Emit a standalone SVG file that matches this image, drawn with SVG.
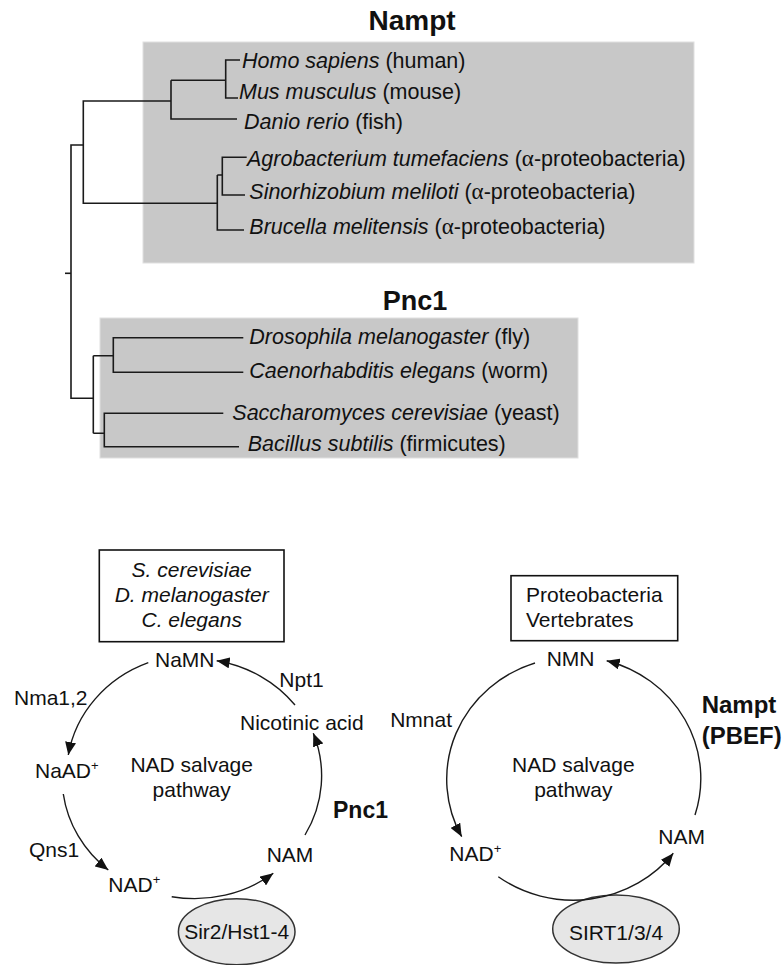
<svg xmlns="http://www.w3.org/2000/svg" width="783" height="965" viewBox="0 0 783 965">
<style>
  text { font-family: "Liberation Sans", Arial, sans-serif; font-size: 21px; fill: #111; }
  .sp { font-size: 21.5px; }
  .it { font-style: italic; }
  .b { font-weight: bold; }
  .title { font-weight: bold; font-size: 28px; text-anchor: middle; }
  .greek { font-family: "Liberation Serif", "Times New Roman", serif; font-size: 23px; }
  .mid { text-anchor: middle; }
  .sup { font-size: 13px; }
  .tree { stroke: #1a1a1a; stroke-width: 1.6; fill: none; }
  .arc { stroke: #1a1a1a; stroke-width: 1.4; fill: none; marker-end: url(#ah); }
  .panel { fill: #c8c8c8; stroke: #e0e0e0; stroke-width: 1; }
  .box { fill: #fff; stroke: #111; stroke-width: 1.6; }
  .enz { fill: #e6e6e6; stroke: #333; stroke-width: 1.5; }
</style>
<defs>
  <marker id="ah" markerUnits="userSpaceOnUse" markerWidth="14" markerHeight="11" refX="13" refY="5.5" orient="auto">
    <path d="M0,0 L13,5.5 L0,11 z" fill="#111"/>
  </marker>
</defs>
<rect width="783" height="965" fill="#fff"/>

<!-- Top: phylogenetic tree -->
<g id="nampt-panel">
  <rect class="panel" x="143" y="42" width="551" height="221"/>
  <text class="title" x="412" y="30">Nampt</text>
</g>
<g id="pnc1-panel">
  <rect class="panel" x="100" y="318" width="478" height="140"/>
  <text class="title" x="415" y="310" style="font-size:27px">Pnc1</text>
</g>

<g id="tree-connectors">
  <path class="tree" d="M240,60 H225.7 V98 H238"/>
  <path class="tree" d="M225.7,80.3 H171 M171,80.3 V119 H237"/>
  <path class="tree" d="M246.7,157.3 H222.3 V195 H245"/>
  <path class="tree" d="M222.3,175 H217.3 M217.3,175 V230 H244"/>
  <path class="tree" d="M171,101 H83.3 V203.3 H217.3"/>
  <path class="tree" d="M83.3,145 H71 V398.3 H93.3"/>
  <path class="tree" d="M65,273.3 H71"/>
  <path class="tree" d="M93.3,355.7 V433.3"/>
  <path class="tree" d="M93.3,355.7 H113.3 M243.3,337.7 H113.3 V372.3 H243.3"/>
  <path class="tree" d="M93.3,433.3 H104.3 M223.3,413.3 H104.3 V446.7 H239"/>
</g>

<g id="homo"><text class="sp" x="242" y="67.5"><tspan class="it">Homo sapiens</tspan> (human)</text></g>
<g id="mus"><text class="sp" x="239" y="99"><tspan class="it">Mus musculus</tspan> (mouse)</text></g>
<g id="danio"><text class="sp" x="244" y="129"><tspan class="it">Danio rerio</tspan> (fish)</text></g>
<g id="agro"><text class="sp" x="247" y="166"><tspan class="it">Agrobacterium tumefaciens</tspan> (<tspan class="greek">α</tspan>-proteobacteria)</text></g>
<g id="sino"><text class="sp" x="249.3" y="199"><tspan class="it">Sinorhizobium meliloti</tspan> (<tspan class="greek">α</tspan>-proteobacteria)</text></g>
<g id="brucella"><text class="sp" x="249.3" y="233.5"><tspan class="it">Brucella melitensis</tspan> (<tspan class="greek">α</tspan>-proteobacteria)</text></g>
<g id="drosophila"><text class="sp" x="249.3" y="344"><tspan class="it">Drosophila melanogaster</tspan> (fly)</text></g>
<g id="caeno"><text class="sp" x="249.3" y="377.5"><tspan class="it">Caenorhabditis elegans</tspan> (worm)</text></g>
<g id="sacch"><text class="sp" x="232.3" y="419.5"><tspan class="it">Saccharomyces cerevisiae</tspan> (yeast)</text></g>
<g id="bacillus"><text class="sp" x="247.7" y="450.5"><tspan class="it">Bacillus subtilis</tspan> (firmicutes)</text></g>

<!-- Bottom left: Pnc1 pathway -->
<g id="species-box-left">
  <rect class="box" x="99.3" y="550" width="184.7" height="91.7"/>
  <text class="it mid" x="191.7" y="577">S. cerevisiae</text>
  <text class="it mid" x="191.7" y="601.5">D. melanogaster</text>
  <text class="it mid" x="191.7" y="627">C. elegans</text>
</g>
<g id="sir2">
  <ellipse class="enz" cx="236.7" cy="931.7" rx="58.3" ry="33"/>
  <text class="mid" x="236.7" y="939">Sir2/Hst1-4</text>
</g>
<g id="namn"><text x="155" y="667">NaMN</text></g>
<g id="naad"><text x="35" y="778">NaAD<tspan class="sup" dy="-8">+</tspan></text></g>
<g id="nad-left"><text x="108.3" y="892">NAD<tspan class="sup" dy="-8">+</tspan></text></g>
<g id="nam-left"><text x="266.7" y="862">NAM</text></g>
<g id="nicotinic"><text x="240" y="730">Nicotinic acid</text></g>
<g id="center-left">
  <text class="mid" x="191.7" y="772">NAD salvage</text>
  <text class="mid" x="191.7" y="797">pathway</text>
</g>
<g id="labels-left">
  <text x="14" y="705">Nma1,2</text>
  <text x="279.3" y="687">Npt1</text>
  <text x="29" y="857">Qns1</text>
  <text class="b" x="333" y="818" style="font-size:23px">Pnc1</text>
</g>

<!-- Bottom right: Nampt pathway -->
<g id="species-box-right">
  <rect class="box" x="511" y="575.7" width="166.7" height="65"/>
  <text x="526" y="601.5">Proteobacteria</text>
  <text x="526" y="627">Vertebrates</text>
</g>
<g id="sirt">
  <ellipse class="enz" cx="616" cy="929" rx="63.3" ry="34"/>
  <text class="mid" x="616" y="940">SIRT1/3/4</text>
</g>
<g id="nmn"><text x="546.7" y="666">NMN</text></g>
<g id="nad-right"><text x="449.3" y="861">NAD<tspan class="sup" dy="-8">+</tspan></text></g>
<g id="nam-right"><text x="658.3" y="844">NAM</text></g>
<g id="center-right">
  <text class="mid" x="573.3" y="772">NAD salvage</text>
  <text class="mid" x="573.3" y="797">pathway</text>
</g>
<g id="labels-right">
  <text x="452" y="727" style="text-anchor:end">Nmnat</text>
  <text class="b" x="701.7" y="713" style="font-size:24px">Nampt</text>
  <text class="b" x="701.7" y="744" style="font-size:24px">(PBEF)</text>
</g>

<g id="pathway-connectors">
  <path class="arc" d="M148.3,662.7 A128,120 0 0 0 68.3,755"/>
  <path class="arc" d="M63.3,794 A128,120 0 0 0 108.3,870"/>
  <path class="arc" d="M171.7,896.7 A128,120 0 0 0 273.3,873.3"/>
  <path class="arc" d="M305,835 A128,120 0 0 0 313.3,733.3"/>
  <path class="arc" d="M295,705 A128,120 0 0 0 216.7,660.7"/>
  <path class="arc" d="M535,663 A127,122 0 0 0 461.7,836.7"/>
  <path class="arc" d="M498.3,876.7 A127,122 0 0 0 673.3,853.3"/>
  <path class="arc" d="M695,815 A127,122 0 0 0 606.7,660.7"/>
</g>
</svg>
